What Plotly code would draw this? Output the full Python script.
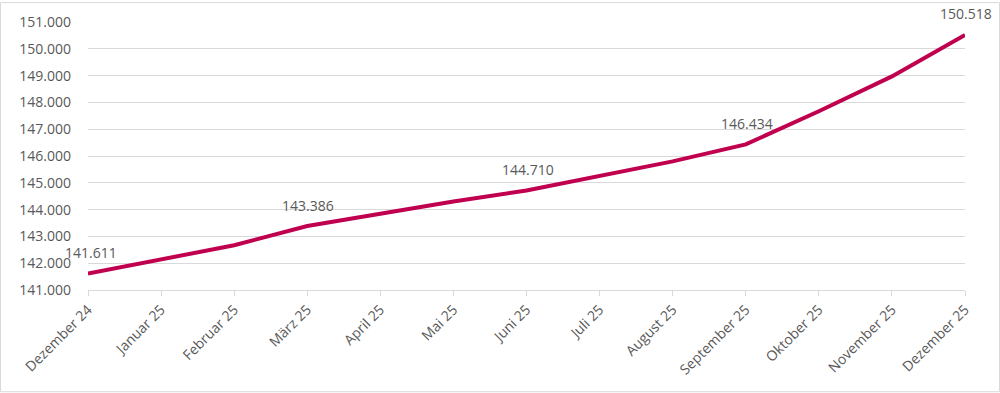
import plotly.graph_objects as go

months = ["Dezember 24", "Januar 25", "Februar 25", "März 25", "April 25", "Mai 25",
          "Juni 25", "Juli 25", "August 25", "September 25", "Oktober 25",
          "November 25", "Dezember 25"]
values = [141611, 142150, 142670, 143386, 143850, 144300, 144710, 145270, 145800,
          146434, 147670, 148970, 150518]
labeled_idx = [0, 3, 6, 9, 12]

y_ticks = list(range(141000, 151001, 1000))

def fmt(v):
    return f"{v:,.0f}".replace(",", ".")

LINE = "#C0004F"
TXT = "#595959"
GRID = "#D9D9D9"
FONT = "Open Sans"

fig = go.Figure()
fig.add_trace(go.Scatter(
    x=list(range(len(months))), y=values, mode="lines",
    line=dict(color=LINE, width=4),
    hoverinfo="skip", showlegend=False,
))

annotations = [dict(
    x=i, y=values[i], xref="x", yref="y", text=fmt(values[i]),
    showarrow=False, yshift=21, xshift=(3 if i == 0 else 1),
    font=dict(family=FONT, size=14, color=TXT),
) for i in labeled_idx]

W, H = 1000, 393
ml, mr, mt, mb = 88, 35, 20, 103
pw, ph = W - ml - mr, H - mt - mb

fig.update_layout(
    width=W, height=H,
    margin=dict(l=ml, r=mr, t=mt, b=mb),
    paper_bgcolor="white", plot_bgcolor="white",
    font=dict(family=FONT, size=14, color=TXT),
    annotations=annotations,
    xaxis=dict(
        range=[0, len(months) - 1],
        tickmode="array", tickvals=list(range(len(months))), ticktext=months,
        tickangle=-45, showgrid=False, zeroline=False,
        showline=True, linecolor=GRID, linewidth=1,
        ticks="outside", ticklen=5, tickcolor=GRID,
        tickfont=dict(family=FONT, size=14, color=TXT),
    ),
    yaxis=dict(
        range=[141000, 151000], tickvals=y_ticks,
        ticktext=[fmt(v) for v in y_ticks],
        showgrid=True, gridcolor=GRID, gridwidth=1,
        zeroline=False, showline=False, ticks="",
        ticklabelstandoff=16,
        tickfont=dict(family=FONT, size=14, color=TXT),
    ),
    shapes=[dict(
        type="rect", xref="paper", yref="paper",
        x0=-(ml - 0.5) / pw, x1=1 + (mr - 0.5) / pw,
        y0=-(mb - 0.5) / ph, y1=1 + (mt - 0.5) / ph,
        line=dict(color=GRID, width=1), fillcolor="rgba(0,0,0,0)", layer="below",
    )],
)

fig.write_html("out.html", config={"displayModeBar": False},
               post_script="document.body.style.margin='0';document.body.style.padding='0';")
